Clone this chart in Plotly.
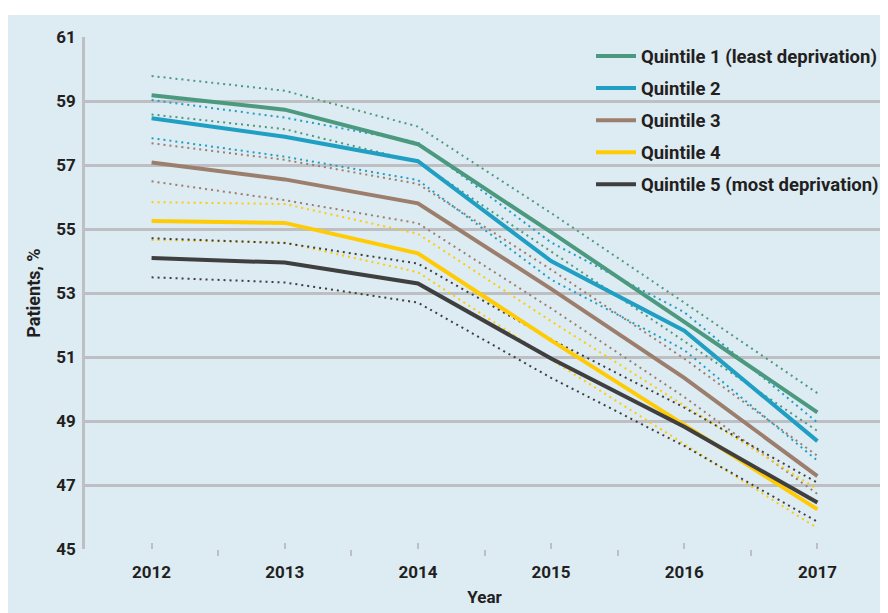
import plotly.graph_objects as go

years = [2012, 2013, 2014, 2015, 2016, 2017]
names = ["Quintile 1 (least deprivation)", "Quintile 2", "Quintile 3", "Quintile 4",
         "Quintile 5 (most deprivation)"]
colors = ["#4b9a7f", "#1f9fc3", "#9c7e6c", "#ffcb05", "#3f3f40"]

q1 = [59.18, 58.73, 57.65, 54.90, 52.10, 49.27]
q1_hi = [59.78, 59.32, 58.20, 55.50, 52.70, 49.87]
q1_lo = [58.58, 58.12, 57.10, 54.30, 51.50, 48.69]

q2 = [58.46, 57.88, 57.12, 54.00, 51.82, 48.37]
q2_hi = [59.03, 58.48, 57.70, 54.58, 52.40, 48.95]
q2_lo = [57.84, 57.26, 56.53, 53.42, 51.22, 47.76]

q3 = [57.08, 56.55, 55.80, 53.13, 50.35, 47.28]
q3_hi = [57.68, 57.16, 56.41, 53.73, 50.95, 47.91]
q3_lo = [56.49, 55.90, 55.18, 52.52, 49.75, 46.72]

q4 = [55.25, 55.19, 54.24, 51.52, 48.88, 46.24]
q4_hi = [55.84, 55.78, 54.85, 52.12, 49.48, 46.87]
q4_lo = [54.66, 54.58, 53.65, 50.92, 48.28, 45.65]

q5 = [54.09, 53.95, 53.30, 50.95, 48.82, 46.45]
q5_hi = [54.71, 54.56, 53.92, 51.55, 49.42, 47.07]
q5_lo = [53.49, 53.33, 52.70, 50.35, 48.22, 45.85]

mains = [q1, q2, q3, q4, q5]
his = [q1_hi, q2_hi, q3_hi, q4_hi, q5_hi]
los = [q1_lo, q2_lo, q3_lo, q4_lo, q5_lo]

y_ticks = [45, 47, 49, 51, 53, 55, 57, 59, 61]

BG = "#ddebf3"
GRID = "#bdbfc2"
TXT = "#231f20"
FONT = "Roboto"

fig = go.Figure()
for i in range(5):
    for band in (his[i], los[i]):
        fig.add_trace(go.Scatter(x=years, y=band, mode="lines", showlegend=False,
                                 hoverinfo="skip",
                                 line=dict(color=colors[i], width=2, dash="2px,4px")))
for i in range(5):
    fig.add_trace(go.Scatter(x=years, y=mains[i], mode="lines", name=names[i],
                             legendgroup=f"g{i}",
                             line=dict(color=colors[i], width=4)))

fig.add_shape(type="rect", xref="paper", yref="paper", x0=-0.0964, x1=1.01,
              y0=-0.13, y1=1.043, fillcolor=BG, line=dict(width=0), layer="below")

fig.update_layout(
    width=880, height=605,
    margin=dict(l=77, r=4, t=29, b=64),
    paper_bgcolor="white", plot_bgcolor=BG,
    font=dict(family=FONT, color=TXT),
    legend=dict(x=1.0, xanchor="right", y=0.999, yanchor="top",
                bgcolor="rgba(0,0,0,0)", tracegroupgap=5,
                font=dict(family=FONT, size=18.5, color=TXT, weight="bold"),
                itemwidth=40),
    xaxis=dict(range=[2011.5, 2017.5], tickmode="array", tickvals=years,
               ticktext=[str(y) for y in years], ticks="inside", ticklen=6,
               tickwidth=2, tickcolor=GRID, showgrid=False, zeroline=False,
               showline=False, ticklabelstandoff=11,
               minor=dict(ticks="outside", tickmode="array",
                          tickvals=[2011.5, 2012.5, 2013.5, 2014.5, 2015.5, 2016.5, 2017.5],
                          ticklen=6, tickwidth=2, tickcolor=GRID),
               tickfont=dict(family=FONT, size=17, color=TXT, weight="bold"),
               title=dict(text="Year", standoff=10,
                          font=dict(family=FONT, size=17, color=TXT, weight="bold"))),
    yaxis=dict(range=[45, 61], tickmode="array", tickvals=y_ticks,
               showgrid=True, gridcolor=GRID, gridwidth=2.5, zeroline=False,
               showline=True, linecolor=GRID, linewidth=2.5, ticks="",
               ticklabelstandoff=3,
               tickfont=dict(family=FONT, size=17, color=TXT, weight="bold"),
               title=dict(text="Patients, %", standoff=12,
                          font=dict(family=FONT, size=18, color=TXT, weight="bold"))),
)

fig.write_html("out.html")
